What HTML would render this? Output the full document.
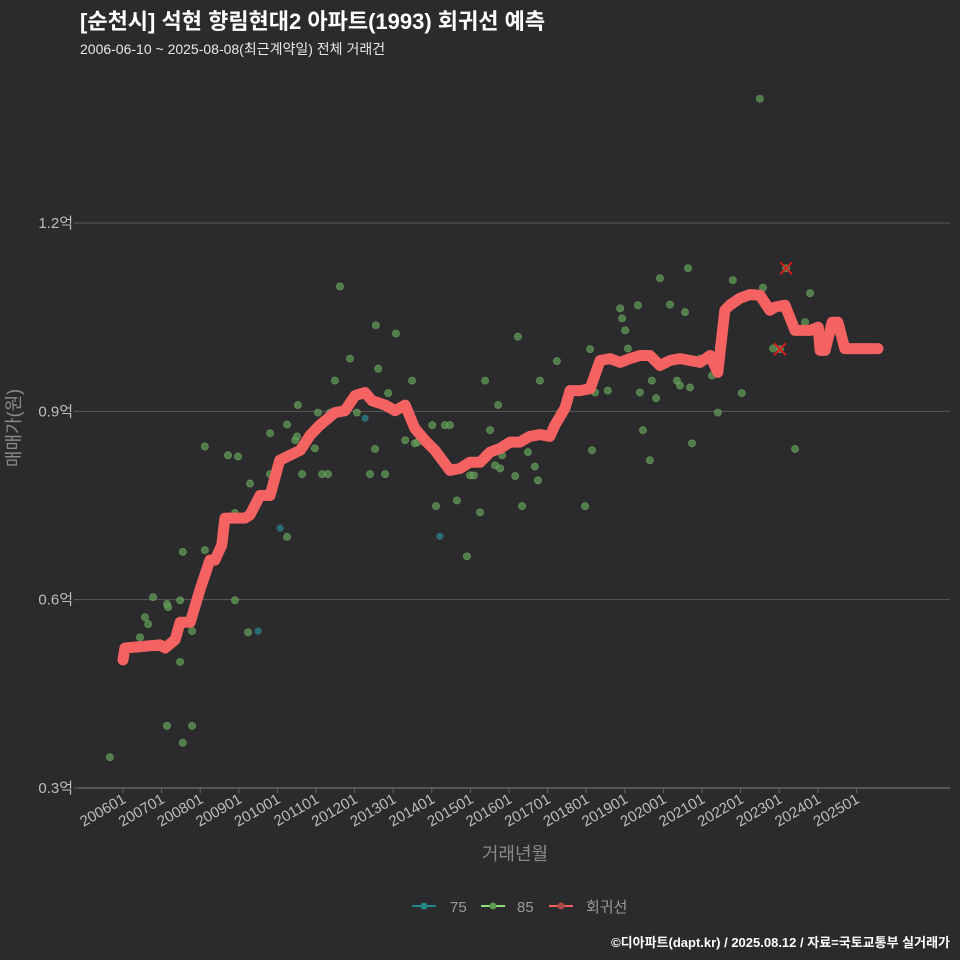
<!DOCTYPE html>
<html><head><meta charset="utf-8"><style>
html,body{margin:0;padding:0;background:#2b2a2c;}
svg{display:block;font-family:"Liberation Sans","Noto Sans CJK KR",sans-serif;}
</style></head><body>
<svg id="chart" width="960" height="960">
<rect width="960" height="960" fill="#2b2a2c"/>
<text x="80" y="29" font-size="22" font-weight="bold" fill="#ffffff">[순천시] 석현 향림현대2 아파트(1993) 회귀선 예측</text>
<text x="80" y="54" font-size="14" fill="#e8e8e8">2006-06-10 ~ 2025-08-08(최근계약일) 전체 거래건</text>
<g id="grid"></g>
<g id="xaxis"></g>
<g id="pts"></g>
<g id="reg"></g>
<g id="xs"></g>
<text x="20" y="428" font-size="18" fill="#8a8a8a" text-anchor="middle" transform="rotate(-90 20 428)">매매가(원)</text>
<text x="515" y="860" font-size="18" fill="#8a8a8a" text-anchor="middle">거래년월</text>
<g>
<g><line x1="412" y1="906" x2="436" y2="906" stroke="#1f8a88" stroke-width="2"/><circle cx="424" cy="906" r="3.5" fill="#1f8a88"/><text x="450" y="912" font-size="15" fill="#9a9a9a">75</text></g>
<g><line x1="481" y1="906" x2="505" y2="906" stroke="#8fe07a" stroke-width="2"/><circle cx="493" cy="906" r="3.5" fill="#5f9a52"/><text x="517" y="912" font-size="15" fill="#9a9a9a">85</text></g>
<g><line x1="549" y1="906" x2="573" y2="906" stroke="#f06060" stroke-width="2"/><circle cx="561" cy="906" r="3.5" fill="#b04848"/><text x="586" y="912" font-size="15" fill="#9a9a9a">회귀선</text></g>
</g>
<text x="950" y="947" font-size="13" font-weight="bold" fill="#ffffff" text-anchor="end">©디아파트(dapt.kr) / 2025.08.12 / 자료=국토교통부 실거래가</text>
</svg>
<script>
const NS="http://www.w3.org/2000/svg";
const yTicks=[0.3,0.6,0.9,1.2];
const yTickLabels=["0.3억","0.6억","0.9억","1.2억"];
const xTickYears=[2006,2007,2008,2009,2010,2011,2012,2013,2014,2015,2016,2017,2018,2019,2020,2021,2022,2023,2024,2025];
const xTickLabels=["200601","200701","200801","200901","201001","201101","201201","201301","201401","201501","201601","201701","201801","201901","202001","202101","202201","202301","202401","202501"];
const regDates=[2006.0,2006.05,2006.96,2007.09,2007.35,2007.48,2007.74,2007.99,2008.25,2008.38,2008.56,2008.64,2008.77,2009.16,2009.29,2009.55,2009.81,2010.06,2010.32,2010.59,2010.85,2011.10,2011.49,2011.75,2012.01,2012.27,2012.45,2012.79,2013.05,2013.31,2013.56,2013.82,2014.08,2014.47,2014.73,2014.99,2015.25,2015.51,2015.77,2016.03,2016.28,2016.54,2016.80,2017.06,2017.19,2017.45,2017.58,2017.84,2018.10,2018.36,2018.62,2018.88,2019.13,2019.39,2019.65,2019.91,2020.17,2020.43,2020.69,2020.95,2021.21,2021.41,2021.59,2021.72,2021.98,2022.24,2022.50,2022.76,2022.89,2023.15,2023.41,2023.80,2024.01,2024.06,2024.19,2024.37,2024.52,2024.70,2025.56];
const regValues=[0.504,0.523,0.528,0.523,0.536,0.564,0.564,0.615,0.663,0.663,0.687,0.730,0.730,0.730,0.735,0.766,0.766,0.822,0.830,0.838,0.862,0.878,0.898,0.901,0.925,0.930,0.917,0.910,0.901,0.910,0.873,0.854,0.838,0.806,0.809,0.819,0.819,0.835,0.841,0.851,0.851,0.860,0.863,0.860,0.878,0.905,0.933,0.933,0.936,0.981,0.984,0.978,0.984,0.989,0.989,0.973,0.981,0.984,0.981,0.978,0.989,0.962,1.061,1.069,1.080,1.086,1.085,1.061,1.066,1.069,1.029,1.029,1.034,0.997,0.997,1.042,1.042,1.000,1.000];
const t85Dates=[2005.66,2006.44,2006.57,2006.65,2006.78,2007.14,2007.17,2007.14,2007.48,2007.48,2007.55,2007.55,2007.79,2007.79,2008.12,2008.12,2008.72,2008.90,2008.90,2008.98,2009.24,2009.29,2009.81,2009.81,2010.25,2010.25,2010.46,2010.51,2010.53,2010.64,2010.97,2011.05,2011.16,2011.31,2011.36,2011.49,2011.62,2011.88,2012.06,2012.40,2012.53,2012.61,2012.55,2012.79,2012.87,2013.07,2013.31,2013.49,2013.56,2013.64,2013.82,2014.01,2014.11,2014.34,2014.47,2014.65,2014.91,2014.99,2015.09,2015.25,2015.38,2015.51,2015.64,2015.72,2015.77,2015.82,2016.16,2016.23,2016.34,2016.49,2016.67,2016.75,2016.80,2017.24,2017.32,2017.97,2018.10,2018.15,2018.23,2018.56,2018.88,2018.93,2019.01,2019.08,2019.34,2019.39,2019.47,2019.65,2019.70,2019.81,2019.91,2020.17,2020.35,2020.43,2020.56,2020.64,2020.69,2020.74,2020.95,2021.26,2021.41,2021.80,2022.03,2022.50,2022.58,2022.84,2023.41,2023.67,2023.80,2023.18,2023.02];
const t85Values=[0.349,0.540,0.572,0.561,0.604,0.593,0.588,0.399,0.501,0.599,0.372,0.676,0.399,0.550,0.844,0.679,0.830,0.599,0.738,0.828,0.548,0.785,0.865,0.800,0.700,0.879,0.854,0.860,0.910,0.800,0.841,0.898,0.800,0.800,0.898,0.949,1.099,0.984,0.898,0.800,0.840,0.968,1.037,0.800,0.929,1.024,0.854,0.949,0.849,0.851,0.854,0.878,0.749,0.878,0.878,0.758,0.669,0.798,0.798,0.739,0.949,0.870,0.814,0.910,0.809,0.830,0.797,1.019,0.749,0.835,0.812,0.790,0.949,0.980,0.898,0.749,0.999,0.838,0.930,0.933,1.064,1.048,1.029,1.000,1.069,0.930,0.870,0.822,0.949,0.921,1.112,1.070,0.949,0.941,1.058,1.128,0.938,0.849,0.984,0.957,0.898,1.109,0.929,1.398,1.097,1.000,0.840,1.042,1.088,1.128,0.999];
const t75Dates=[2009.50,2010.07,2012.27,2014.21];
const t75Values=[0.550,0.714,0.889,0.701];
const exDates=[2023.18,2023.02];
const exValues=[1.128,0.999];

const X0=78,X1=950,Y0=788,Y1=223;
const xS=d=>123+(d-2006)*38.6;
const yS=v=>Y0-(v-0.3)/0.9*(Y0-Y1);
function mk(tag,attrs,parent){const e=document.createElementNS(NS,tag);for(const k in attrs)e.setAttribute(k,attrs[k]);parent.appendChild(e);return e;}
const grid=document.getElementById('grid');
yTicks.forEach((t,i)=>{
 const l=mk('line',{x1:X0,x2:X1,y1:yS(t),y2:yS(t),stroke:i===0?'#666':'#5a5a5a','stroke-width':i===0?1.5:1},grid);
 
 
 const tx=mk('text',{x:73,y:yS(t)+5,'text-anchor':'end','font-size':15,fill:'#bdbdbd'},grid);
 tx.textContent=yTickLabels[i];
 
 
 const tk=mk('line',{x1:X0-4,x2:X0,y1:yS(t),y2:yS(t),stroke:'#666'},grid);
 
 
});
const xa=document.getElementById('xaxis');
xTickYears.forEach((d,i)=>{
 const x=xS(d);
 const tk=mk('line',{x1:x,x2:x,y1:Y0,y2:Y0+5,stroke:'#666'},xa);
 
 
 const tx=mk('text',{x:x+4,y:Y0+14,'text-anchor':'end','font-size':15,fill:'#bdbdbd',transform:`rotate(-30 ${x+4} ${Y0+14})`},xa);
 tx.textContent=xTickLabels[i];
 
 
});
const pts=document.getElementById('pts');
t85Dates.forEach((d,i)=>{
 const c=mk('circle',{cx:xS(d),cy:yS(t85Values[i]),r:3.6,fill:'#5f9a55','fill-opacity':0.75,stroke:'#7fbf70','stroke-opacity':0.5,'stroke-width':0.8},pts);
 
 
});
t75Dates.forEach((d,i)=>{
 const c=mk('circle',{cx:xS(d),cy:yS(t75Values[i]),r:3.6,fill:'#2a7f86','fill-opacity':0.8},pts);
 
 
});
const reg=document.getElementById('reg');
const p=mk('path',{d:regDates.map((d,i)=>(i?'L':'M')+xS(d).toFixed(1)+' '+yS(regValues[i]).toFixed(1)).join(' '),fill:'none',stroke:'#f46262','stroke-width':11,'stroke-linejoin':'round','stroke-linecap':'round'},reg);


const xs=document.getElementById('xs');
exDates.forEach((d,i)=>{
 const x=xS(d),y=yS(exValues[i]);
 const g=mk('path',{d:`M${x-6} ${y-6}L${x+6} ${y+6}M${x+6} ${y-6}L${x-6} ${y+6}`,stroke:'#e01b1b','stroke-width':1.8},xs);
 
 
});
</script>
</body></html>
